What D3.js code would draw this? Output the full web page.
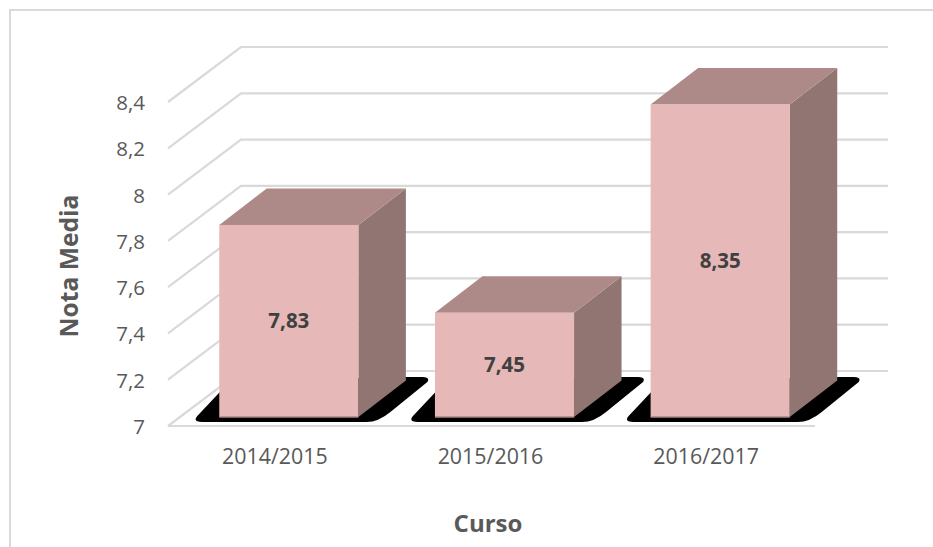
<!DOCTYPE html>
<html><head><meta charset="utf-8">
<style>html,body{margin:0;padding:0;background:#fff}svg{display:block}text{font-family:"Open Sans",sans-serif}</style>
<script src="https://cdn.jsdelivr.net/npm/d3@7/dist/d3.min.js"></script></head>
<body><svg id="c" width="933" height="547"></svg>
<script>
const categories = ["2014/2015","2015/2016","2016/2017"];
const values = [7.83,7.45,8.35];
const valueLabels = ["7,83","7,45","8,35"];
const yTicks = [7,7.2,7.4,7.6,7.8,8,8.2,8.4];
const yTickLabels = ["7","7,2","7,4","7,6","7,8","8","8,2","8,4"];

const svg = d3.select("#c");
const y = d3.scaleLinear().domain([7,8.4]).range([426,102]);
const x = d3.scaleBand().domain(categories).range([168,815]).paddingInner(0.355).paddingOuter(0.1775);
const wall = {dx:73, dy:-55};          // depth of the back wall
const shift = {dx:13, dy:-9};          // bar offset inside the floor
const depth = {dx:47.5, dy:-36.5};     // depth of a bar
const gridColor = "#D9D9D9";

// chart frame: only top and left edges are in view
svg.append("path").attr("d","M10,547V10H933").attr("fill","none").attr("stroke",gridColor).attr("stroke-width",2);

// grid: wall + back line
const grid = svg.append("g").attr("fill","none").attr("stroke",gridColor).attr("stroke-width",2.2);
yTicks.forEach(t=>{
  const p = d3.path();
  p.moveTo(168,y(t)); p.lineTo(168+wall.dx,y(t)+wall.dy); p.lineTo(815+wall.dx,y(t)+wall.dy);
  grid.append("path").attr("d",p.toString());
});
grid.append("path").attr("d",`M168,${y(7)}H815`);

// bars
const g = svg.selectAll("g.bar").data(categories).join("g").attr("class","bar");
g.each(function(c,i){
  const s = d3.select(this);
  const x0 = x(c)+shift.dx, x1 = x0+x.bandwidth();
  const base = y(7)+shift.dy, top = y(values[i])+shift.dy;
  const d = depth;
  // shadow on the floor
  s.append("path").attr("fill","#000").attr("d",
    `M${x0+10},${base-35}L${x0-22},${base-1}Q${x0-27},${base+5} ${x0-17},${base+5}`+
    `L${x1+8},${base+5}Q${x1+20},${base+5} ${x1+32},${base-5}`+
    `L${x1+69},${base-35}Q${x1+72},${base-40} ${x1+64},${base-40}L${x1+40},${base-40}Z`);
  // side
  s.append("path").attr("fill","#917573").attr("d",
    `M${x1},${top}L${x1+d.dx},${top+d.dy}V${base+d.dy}L${x1},${base}Z`);
  // top
  s.append("path").attr("fill","#AD8A87").attr("d",
    `M${x0},${top}L${x0+d.dx},${top+d.dy}H${x1+d.dx}L${x1},${top}Z`);
  // front
  s.append("rect").attr("x",x0).attr("y",top).attr("width",x.bandwidth()).attr("height",base-top).attr("fill","#E6B8B7");
  s.append("path").attr("d",`M${x0},${base}H${x1}`).attr("stroke","#A98684").attr("stroke-width",1.5);
  s.append("text").attr("x",(x0+x1)/2).attr("y",(top+base)/2+7).attr("text-anchor","middle")
    .attr("font-size",20.5).attr("font-weight",700).attr("fill","#404040").text(valueLabels[i]);
});

// tick labels
svg.selectAll("text.yt").data(yTicks).join("text").attr("class","yt")
  .attr("x",145).attr("y",t=>y(t)+8).attr("text-anchor","end")
  .attr("font-size",20.5).attr("fill","#595959").text((t,i)=>yTickLabels[i]);
svg.selectAll("text.xt").data(categories).join("text").attr("class","xt")
  .attr("x",c=>x(c)+x.bandwidth()/2-1).attr("y",464).attr("text-anchor","middle")
  .attr("font-size",21.4).attr("fill","#595959").text(c=>c);

// axis titles
svg.append("text").attr("transform","translate(78,266) rotate(-90)").attr("text-anchor","middle")
  .attr("font-size",24.6).attr("font-weight",700).attr("fill","#595959").text("Nota Media");
svg.append("text").attr("x",488).attr("y",532).attr("text-anchor","middle")
  .attr("font-size",24).attr("font-weight",700).attr("fill","#595959").text("Curso");
</script></body></html>
